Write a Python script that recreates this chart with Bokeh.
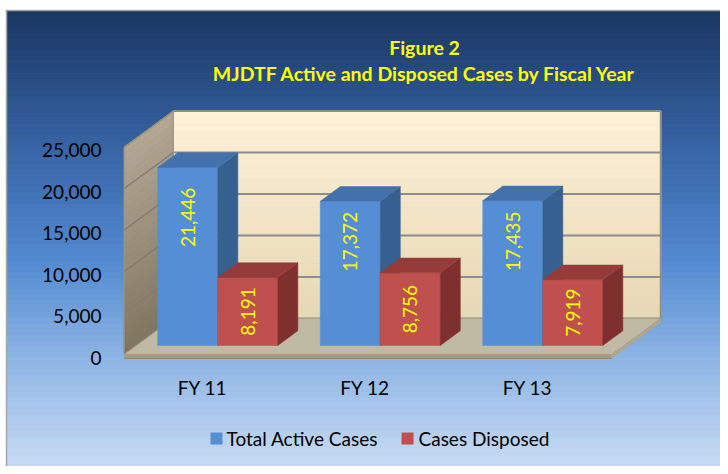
import numpy as np
from bokeh.plotting import figure
from bokeh.models import Range1d
from bokeh.core.properties import value
from bokeh.embed import file_html
from bokeh.resources import INLINE

# ---------------- data ----------------
categories = ["FY 11", "FY 12", "FY 13"]
series_names = ["Total Active Cases", "Cases Disposed"]
active_cases = [21446, 17372, 17435]
disposed_cases = [8191, 8756, 7919]
y_ticks = [0, 5000, 10000, 15000, 20000, 25000]
y_tick_labels = ["0", "5,000", "10,000", "15,000", "20,000", "25,000"]
value_labels_active = ["21,446", "17,372", "17,435"]
value_labels_disposed = ["8,191", "8,756", "7,919"]
title_lines = ["Figure 2", "MJDTF Active and Disposed Cases by Fiscal Year"]

# ---------------- layout (pixels) ----------------
W, H = 720, 466
KX = 162.5          # px per category
KY = 41.5 / 5000    # px per case
OX, OY = 205, 354   # canvas px of category 0 / value 0 on front plane
DEPTH_PX = (49, 36) # floor depth (px, right / up)
Y_MAX = 25000

FONT = "Lato"
YELLOW = "#ffff00"
FS = "19px"

x0r = -OX / KX
x1r = (W - OX) / KX
y0r = -(H - OY) / KY
y1r = OY / KY

def px_x(px):   # canvas px -> data x
    return (px - OX) / KX

def px_y(py):   # canvas px (from top) -> data y
    return (OY - py) / KY

p = figure(width=W, height=H, output_backend="svg", toolbar_location=None,
           x_range=Range1d(x0r, x1r), y_range=Range1d(y0r, y1r),
           min_border=0, border_fill_color="white", background_fill_color="white")
p.axis.visible = False
p.grid.visible = False
p.outline_line_color = None

DX = DEPTH_PX[0] / KX
DY = DEPTH_PX[1] / KY

def lerp_color(stops, t):
    for (t0, c0), (t1, c1) in zip(stops[:-1], stops[1:]):
        if t0 <= t <= t1:
            f = (t - t0) / (t1 - t0) if t1 > t0 else 0
            c = [round(a + (b - a) * f) for a, b in zip(c0, c1)]
            return "#%02x%02x%02x" % tuple(c)
    c = stops[-1][1]
    return "#%02x%02x%02x" % tuple(c)

# ---------------- background gradient ----------------
bg_stops = [(0.0, (25, 54, 96)), (0.30, (55, 100, 165)), (0.55, (82, 138, 208)),
            (0.76, (140, 180, 228)), (1.0, (200, 218, 242))]
n = 80
top_y = px_y(10)
left_x = px_x(6)
edges = np.linspace(top_y, y0r, n + 1)
bg_cols = [lerp_color(bg_stops, (i + 0.5) / n) for i in range(n)]
p.quad(left=left_x, right=x1r, top=edges[:-1], bottom=edges[1:],
       fill_color=bg_cols, line_color=bg_cols, line_width=1)
p.segment(x0=[left_x, left_x], y0=[top_y, top_y], x1=[x1r, left_x], y1=[top_y, y0r],
          line_color="#a6a6a6", line_width=1.5)

# ---------------- walls ----------------
nc = len(categories)
xl, xr = -0.5, nc - 0.5
# back wall (cream gradient)
bw_stops = [(0.0, (254, 241, 216)), (1.0, (230, 216, 180))]
m = 30
wedges = np.linspace(Y_MAX + DY, DY, m + 1)
bw_cols = [lerp_color(bw_stops, (i + 0.5) / m) for i in range(m)]
p.quad(left=xl + DX, right=xr + DX, top=wedges[:-1], bottom=wedges[1:],
       fill_color=bw_cols, line_color=bw_cols, line_width=1)
p.segment(x0=[xr + DX, xl + DX], y0=[DY, Y_MAX + DY], x1=[xr + DX, xr + DX], y1=[Y_MAX + DY, Y_MAX + DY],
          line_color="#8f8f8f", line_width=2)
# back wall gridlines
p.segment(x0=[xl + DX] * len(y_ticks), y0=[t + DY for t in y_ticks],
          x1=[xr + DX] * len(y_ticks), y1=[t + DY for t in y_ticks],
          line_color="#8c8c8c", line_width=2)

# left wall (tan gradient)
lw_stops = [(0.0, (178, 168, 148)), (1.0, (128, 118, 96))]
ledges = np.linspace(Y_MAX, 0, m + 1)
lw_cols = [lerp_color(lw_stops, (i + 0.5) / m) for i in range(m)]
p.patches(xs=[[xl, xl + DX, xl + DX, xl] for _ in range(m)],
          ys=[[b, b + DY, a + DY, a] for a, b in zip(ledges[:-1], ledges[1:])],
          fill_color=lw_cols, line_color=lw_cols, line_width=1)
p.segment(x0=[xl] * len(y_ticks), y0=y_ticks, x1=[xl + DX] * len(y_ticks), y1=[t + DY for t in y_ticks],
          line_color="#857d6c", line_width=1.5)
p.patch(x=[xl, xl + DX, xl + DX, xl], y=[0, DY, Y_MAX + DY, Y_MAX], fill_color=None,
        line_color="#9a927f", line_width=1)

# floor
SLAB = 4 / KY
p.patch(x=[xl, xr, xr + DX, xl + DX], y=[0, 0, DY, DY], fill_color="#c0baa4",
        line_color="#a8a08a", line_width=1)
p.patch(x=[xl, xr, xr, xl], y=[0, 0, -SLAB, -SLAB], fill_color="#a59c80", line_color=None)
p.patch(x=[xr, xr + DX, xr + DX, xr], y=[0, DY, DY - SLAB, -SLAB], fill_color="#aea68e", line_color=None)
p.segment(x0=[xl], y0=[-SLAB], x1=[xr], y1=[-SLAB], line_color="#8e8670", line_width=1)

# ---------------- bars ----------------
T_FRONT, T_BACK = 0.25, 0.66
BAR_W = 60 / KX
fx, fy = T_FRONT * DX, T_FRONT * DY
bx, by = T_BACK * DX, T_BACK * DY
series = [
    (active_cases, value_labels_active, -1, ("#558ed5", "#36608f", "#4371ab"), 0.72),
    (disposed_cases, value_labels_disposed, 0, ("#c0504d", "#7f302e", "#953c3a"), 0.5),
]
xs, ys, cols = [], [], []
lab_x, lab_y, lab_t = [], [], []
for i in range(nc):
    for vals, labs, off, (cf, cs, ct), frac in series:
        v = vals[i]
        a = i + off * BAR_W if off < 0 else i
        b = a + BAR_W
        # front
        xs.append([a + fx, b + fx, b + fx, a + fx]); ys.append([fy, fy, v + fy, v + fy]); cols.append(cf)
        # side
        xs.append([b + fx, b + bx, b + bx, b + fx]); ys.append([fy, by, v + by, v + fy]); cols.append(cs)
        # top
        xs.append([a + fx, b + fx, b + bx, a + bx]); ys.append([v + fy, v + fy, v + by, v + by]); cols.append(ct)
        lab_x.append((a + b) / 2 + fx); lab_y.append(fy + v * frac); lab_t.append(labs[i])
p.patches(xs=xs, ys=ys, fill_color=cols, line_color=cols, line_width=0.5)
p.text(x=lab_x, y=lab_y, text=lab_t, angle=np.pi / 2, text_align="center", text_baseline="middle",
       text_color=YELLOW, text_font=value(FONT), text_font_size=FS)

# ---------------- axis labels ----------------
p.text(x=[px_x(101)] * len(y_ticks), y=[t - 3 / KY for t in y_ticks], text=y_tick_labels,
       text_align="right", text_baseline="middle", text_color="black",
       text_font=value(FONT), text_font_size=FS)
p.text(x=[i - 3 / KX for i in range(nc)], y=[px_y(387)] * nc, text=categories,
       text_align="center", text_baseline="middle", text_color="black",
       text_font=value(FONT), text_font_size=FS)

# ---------------- title ----------------
p.text(x=[px_x(424)] * 2, y=[px_y(47), px_y(73)], text=title_lines,
       text_align="center", text_baseline="middle", text_color=YELLOW,
       text_font=value(FONT), text_font_style="bold", text_font_size="19.5px")

# ---------------- legend ----------------
leg_y = px_y(438)
sq = 12
p.rect(x=[px_x(216), px_x(407)], y=[leg_y, leg_y], width=sq / KX, height=sq / KY,
       fill_color=["#558ed5", "#c0504d"], line_color=None)
p.text(x=[px_x(226), px_x(418)], y=[leg_y, leg_y], text=series_names,
       text_align="left", text_baseline="middle", text_color="black",
       text_font=value(FONT), text_font_size=FS)

open("out.html", "w").write(file_html(p, INLINE))
